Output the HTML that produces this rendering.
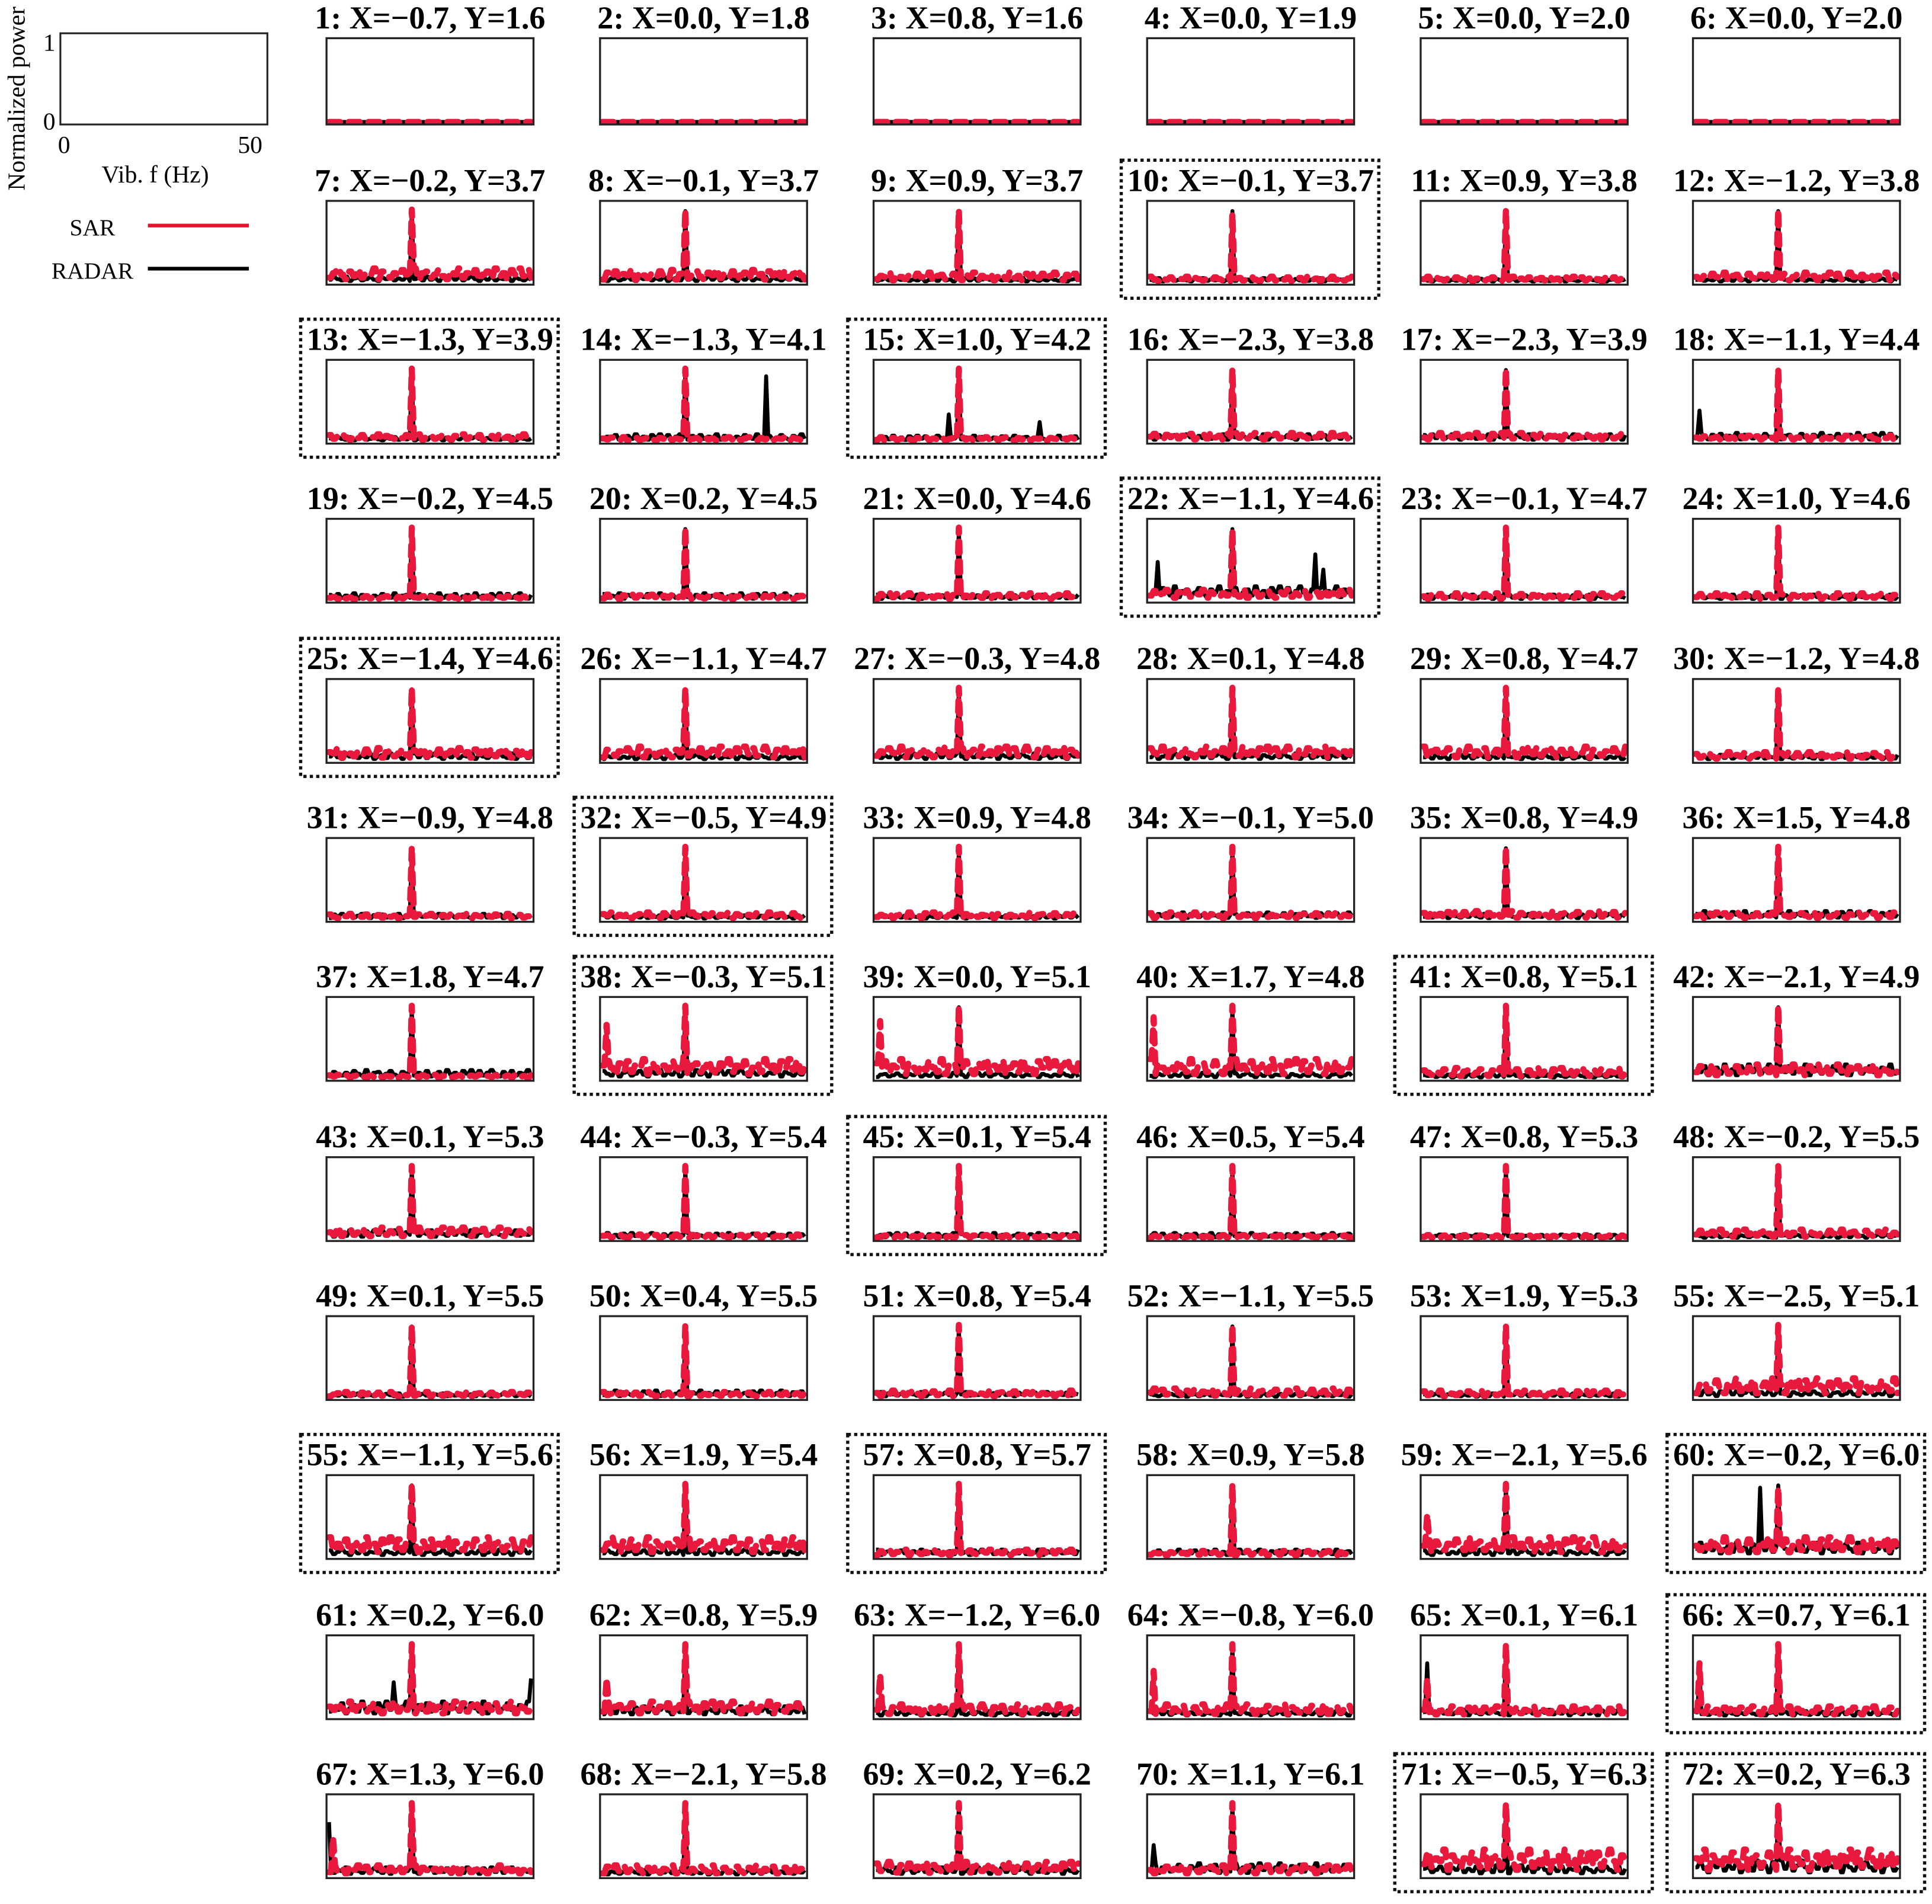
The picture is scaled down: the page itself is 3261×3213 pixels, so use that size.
<!DOCTYPE html>
<html><head><meta charset="utf-8"><style>
html,body{margin:0;padding:0;background:#fff;}
svg{display:block;}
text{font-family:"Liberation Serif",serif;}
</style></head><body>
<svg id="chart" width="3261" height="3213" viewBox="0 0 1568 1545" preserveAspectRatio="none" xmlns="http://www.w3.org/2000/svg">
<g>
<text x="0" y="0" transform="translate(20,80) rotate(-90)" text-anchor="middle" font-size="20">Normalized power</text>
<rect x="49" y="27" width="168" height="74" fill="none" stroke="#222" stroke-width="1.5"/>
<text x="40" y="41" text-anchor="middle" font-size="20">1</text>
<text x="40" y="105" text-anchor="middle" font-size="20">0</text>
<text x="52" y="124" text-anchor="middle" font-size="20">0</text>
<text x="203" y="124" text-anchor="middle" font-size="20">50</text>
<text x="126" y="148" text-anchor="middle" font-size="20">Vib. f (Hz)</text>
<text x="75" y="191" text-anchor="middle" font-size="19">SAR</text>
<line x1="120" y1="183" x2="202" y2="183" stroke="#e8112d" stroke-width="3"/>
<text x="75" y="226" text-anchor="middle" font-size="19">RADAR</text>
<line x1="120" y1="218" x2="202" y2="218" stroke="#000" stroke-width="3"/>
</g>
<g id="grid"></g>
</svg>
<script>
const labels=["1","2","3","4","5","6","7","8","9","10","11","12","13","14","15","16","17","18","19","20","21","22","23","24","25","26","27","28","29","30","31","32","33","34","35","36","37","38","39","40","41","42","43","44","45","46","47","48","49","50","51","52","53","55","55","56","57","58","59","60","61","62","63","64","65","66","67","68","69","70","71","72"];
const xs=[-0.7,0.0,0.8,0.0,0.0,0.0,-0.2,-0.1,0.9,-0.1,0.9,-1.2,-1.3,-1.3,1.0,-2.3,-2.3,-1.1,-0.2,0.2,0.0,-1.1,-0.1,1.0,-1.4,-1.1,-0.3,0.1,0.8,-1.2,-0.9,-0.5,0.9,-0.1,0.8,1.5,1.8,-0.3,0.0,1.7,0.8,-2.1,0.1,-0.3,0.1,0.5,0.8,-0.2,0.1,0.4,0.8,-1.1,1.9,-2.5,-1.1,1.9,0.8,0.9,-2.1,-0.2,0.2,0.8,-1.2,-0.8,0.1,0.7,1.3,-2.1,0.2,1.1,-0.5,0.2];
const ys=[1.6,1.8,1.6,1.9,2.0,2.0,3.7,3.7,3.7,3.7,3.8,3.8,3.9,4.1,4.2,3.8,3.9,4.4,4.5,4.5,4.6,4.6,4.7,4.6,4.6,4.7,4.8,4.8,4.7,4.8,4.8,4.9,4.8,5.0,4.9,4.8,4.7,5.1,5.1,4.8,5.1,4.9,5.3,5.4,5.4,5.4,5.3,5.5,5.5,5.5,5.4,5.5,5.3,5.1,5.6,5.4,5.7,5.8,5.6,6.0,6.0,5.9,6.0,6.0,6.1,6.1,6.0,5.8,6.2,6.1,6.3,6.3];
const dotted=[9,12,14,21,24,31,37,40,44,54,56,59,65,70,71];
const peakHz=[0,0,0,0,0,0,20.5,20.5,20.5,20.5,20.5,20.5,20.5,20.5,20.5,20.5,20.5,20.5,20.5,20.5,20.5,20.5,20.5,20.5,20.5,20.5,20.5,20.5,20.5,20.5,20.5,20.5,20.5,20.5,20.5,20.5,20.5,20.5,20.5,20.5,20.5,20.5,20.5,20.5,20.5,20.5,20.5,20.5,20.5,20.5,20.5,20.5,20.5,20.5,20.5,20.5,20.5,20.5,20.5,20.5,20.5,20.5,20.5,20.5,20.5,20.5,20.5,20.5,20.5,20.5,20.5,20.5];
const peakSar=[0,0,0,0,0,0,0.95,0.95,0.95,0.9,0.95,0.95,0.95,0.95,0.95,0.95,0.95,0.95,0.95,0.95,0.95,0.92,0.95,0.95,0.95,0.95,0.95,0.95,0.95,0.95,0.95,0.95,0.95,0.95,0.95,0.95,0.95,0.95,0.95,0.95,0.95,0.95,0.95,0.95,0.95,0.95,0.95,0.95,0.95,0.95,0.95,0.95,0.95,0.95,0.95,0.95,0.95,0.95,0.95,0.9,0.95,0.95,0.95,0.95,0.95,0.95,0.95,0.95,0.95,0.95,0.95,0.95];
const sarNoise=[0,0,0,0,0,0,0.2,0.18,0.14,0.08,0.08,0.14,0.1,0.06,0.06,0.12,0.12,0.08,0.06,0.08,0.1,0.15,0.1,0.1,0.18,0.2,0.2,0.2,0.2,0.12,0.08,0.1,0.1,0.1,0.12,0.1,0.05,0.28,0.28,0.28,0.15,0.2,0.16,0.06,0.05,0.05,0.05,0.13,0.08,0.08,0.1,0.13,0.1,0.28,0.28,0.28,0.1,0.08,0.28,0.28,0.22,0.22,0.18,0.18,0.15,0.15,0.15,0.15,0.2,0.15,0.38,0.38];
const radarNoise=[0,0,0,0,0,0,0.08,0.08,0.06,0.06,0.05,0.06,0.06,0.1,0.08,0.1,0.1,0.12,0.1,0.1,0.08,0.2,0.08,0.08,0.1,0.08,0.1,0.1,0.08,0.08,0.08,0.06,0.06,0.1,0.08,0.12,0.12,0.12,0.08,0.08,0.06,0.2,0.12,0.08,0.08,0.08,0.06,0.06,0.06,0.1,0.08,0.06,0.06,0.1,0.1,0.1,0.1,0.1,0.1,0.2,0.22,0.15,0.08,0.08,0.1,0.08,0.12,0.08,0.12,0.18,0.15,0.22];
const baseNoise=[0.9,0.4,0.8,0.3,0.6,0.9,0.5,0.2,0.7,0.4,0.8,0.3,0.6,0.5,0.9,0.2,0.7,0.5,0.3,0.6,0.4,0.8,0.5,0.3,0.9,0.2,0.6,0.7,0.3,0.5,0.8,0.4,0.2,0.7,0.5,0.9,0.3,0.6,0.4,0.8,0.2,0.5,0.7,0.3,0.9,0.4,0.6,0.2,0.8,0.5];
const noiseOffset=[0,0,0,0,0,0,3,7,11,5,13,17,2,19,23,29,31,37,41,43,47,1,6,9,12,15,18,21,24,27,30,33,36,39,42,45,48,4,8,14,16,20,22,26,28,32,34,38,40,44,46,49,10,25,35,3,7,11,13,17,19,23,29,31,37,41,43,47,2,6,9,12];
// extra spikes: cell index, series, frequency Hz, height
const spikeCell=[13,14,14,17,21,21,21,37,38,39,59,60,60,58,61,62,63,64,64,65,65,66,66,69];
const spikeSeries=["radar","radar","radar","radar","radar","radar","radar","sar","sar","sar","radar","radar","radar","sar","sar","sar","sar","sar","radar","sar","radar","radar","sar","radar"];
const spikeHz=[40.5,18,40.5,1,2,41,43,1,1,1,16,16,50,1,1,1,1,1,1,1,1,0,1,1];
const spikeVal=[0.85,0.35,0.25,0.4,0.5,0.6,0.4,0.7,0.75,0.8,0.9,0.45,0.5,0.55,0.5,0.55,0.6,0.5,0.7,0.7,0.65,0.7,0.5,0.4];

const colX=[265,487,709,931,1153,1374];
const rowY=[31,163,292,421,551,680,809,939,1068,1197,1327,1456];
const PW=168;
const NS="http://www.w3.org/2000/svg";
const grid=document.getElementById('grid');
function mk(tag,attrs){const e=document.createElementNS(NS,tag);for(const k in attrs)e.setAttribute(k,attrs[k]);return e;}
function fmt(v){return (v<0?"\u2212":"")+Math.abs(v).toFixed(1);}
function fys(v){return v.toFixed(1);}

for(let i=0;i<labels.length;i++){
  const r=Math.floor(i/6),c=i%6;
  const px=colX[c],py=rowY[r],ph=(r===0?70:68);
  const xS=hz=>px+2+(hz/50)*(PW-4);
  const yS=v=>py+ph-2-v*(ph-6);
  const g=mk('g',{});
  
  
  grid.appendChild(g);
  if(dotted.includes(i)){
    const d=mk('rect',{x:px-21,y:py-33,width:PW+41,height:ph+44,fill:'none',stroke:'#111','stroke-width':2.6,'stroke-dasharray':'2.6 2.6'});
    
    
    g.appendChild(d);
  }
  const t=mk('text',{x:px+PW/2,y:py-8,'text-anchor':'middle','font-size':26,'font-weight':'bold'});
  t.textContent=labels[i]+": X="+fmt(xs[i])+", Y="+fys(ys[i]);
  
  
  g.appendChild(t);
  function series(kind){
    const lvl=kind==='sar'?sarNoise[i]:radarNoise[i];
    const off=noiseOffset[i]+(kind==='sar'?0:17);
    const vals=[];
    for(let k=0;k<=100;k++){
      const hz=k*0.5;
      let v=lvl*baseNoise[(Math.floor(k/2)+off)%50];
      if(peakHz[i]>0){
        const d=Math.abs(hz-peakHz[i]);
        const pk=kind==='sar'?peakSar[i]:0.93;
        if(d<0.3)v=pk;
      }
      for(let s=0;s<spikeCell.length;s++){
        if(spikeCell[s]===i&&spikeSeries[s]===kind&&Math.abs(hz-spikeHz[s])<0.3)v=Math.max(v,spikeVal[s]);
      }
      vals.push([hz,v]);
    }
    return vals.map((p,j)=>(j?'L':'M')+xS(p[0]).toFixed(1)+' '+yS(p[1]).toFixed(1)).join(' ');
  }
  const rl=mk('path',{d:series('radar'),fill:'none',stroke:'#000','stroke-width':3.2,'stroke-linejoin':'round'});
  
  
  g.appendChild(rl);
  const sl=mk('path',{d:series('sar'),fill:'none',stroke:'#e8193c','stroke-width':5,'stroke-dasharray':'9 7','stroke-linejoin':'round','stroke-linecap':'round'});
  
  
  g.appendChild(sl);
  const box=mk('rect',{x:px,y:py,width:PW,height:ph,fill:'none',stroke:'#222','stroke-width':1.6});
  
  
  g.appendChild(box);
}
</script>
</body></html>
